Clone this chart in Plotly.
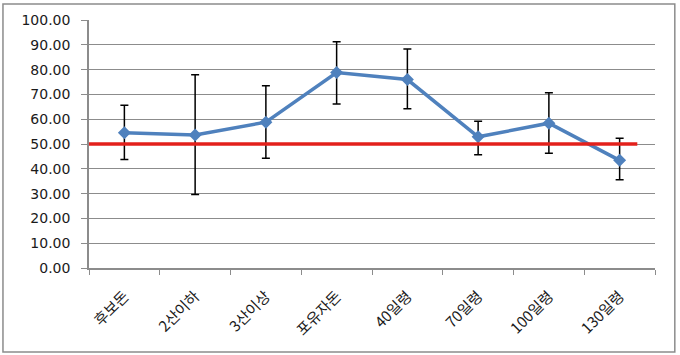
import plotly.graph_objects as go

categories = ["후보돈", "2산이하", "3산이상", "포유자돈", "40일령", "70일령", "100일령", "130일령"]
means = [54.5, 53.6, 58.8, 78.8, 76.0, 52.9, 58.4, 43.4]
upper = [65.6, 77.9, 73.5, 91.2, 88.3, 59.2, 70.7, 52.3]
lower = [43.8, 29.6, 44.3, 66.1, 64.2, 45.7, 46.3, 35.6]
threshold = 50.0
y_ticks = [0, 10, 20, 30, 40, 50, 60, 70, 80, 90, 100]

err_plus = [u - m for u, m in zip(upper, means)]
err_minus = [m - l for m, l in zip(means, lower)]

fig = go.Figure()
fig.add_trace(go.Scatter(
    x=categories, y=means, mode="lines+markers",
    line=dict(color="#4F81BD", width=3.5),
    marker=dict(symbol="diamond", size=10, color="#4F81BD"),
    error_y=dict(type="data", symmetric=False, array=err_plus, arrayminus=err_minus,
                 color="#000000", thickness=1.5, width=4),
    showlegend=False, cliponaxis=False,
))

fig.add_shape(type="line", xref="x", yref="y", x0=-0.5, x1=7.25, y0=threshold, y1=threshold,
              line=dict(color="#E3201B", width=3.5), layer="above")
# outer border
fig.add_shape(type="rect", xref="paper", yref="paper", x0=-0.152, x1=1.035, y0=-0.339, y1=1.0645,
              line=dict(color="#8C8C8C", width=1.5))

font_family = "DejaVu Sans, Noto Sans CJK KR"
fig.update_layout(
    width=680, height=355,
    margin=dict(l=89, r=25, t=20, b=87),
    paper_bgcolor="white", plot_bgcolor="white",
    font=dict(family=font_family, size=13, color="#1a1a1a"),
)
fig.update_xaxes(
    type="category", range=[-0.5, 7.5], automargin=False,
    showgrid=False, showline=True, linecolor="#8C8C8C", linewidth=1.5,
    ticks="outside", ticklen=5, tickcolor="#8C8C8C", tickson="boundaries",
    tickangle=-45, ticklabelstandoff=12,
    tickfont=dict(family="Noto Sans CJK KR, DejaVu Sans", size=15, color="#1a1a1a"),
)
fig.update_yaxes(
    range=[0, 100], tickvals=y_ticks, tickformat=".2f", automargin=False,
    showgrid=True, gridcolor="#8C8C8C", gridwidth=1,
    showline=True, linecolor="#8C8C8C", linewidth=1.5,
    ticks="outside", ticklen=6, tickcolor="#8C8C8C",
    ticklabelstandoff=8, zeroline=False,
    tickfont=dict(family=font_family, size=14, color="#1a1a1a"),
)

fig.write_html("out.html", config={"displayModeBar": False},
               post_script="document.body.style.margin='0';document.body.style.overflow='hidden';")
